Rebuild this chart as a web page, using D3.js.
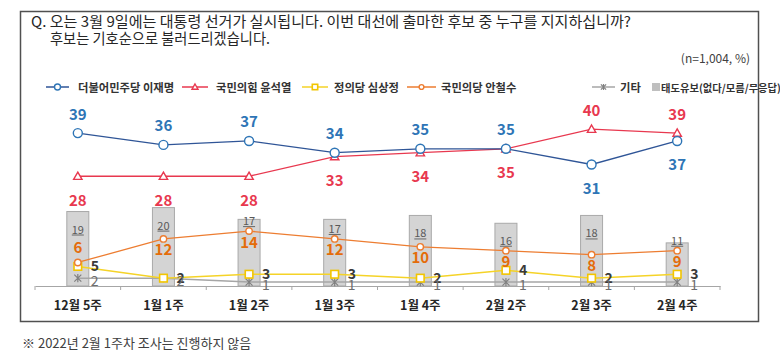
<!DOCTYPE html>
<html><head><meta charset="utf-8">
<script src="https://cdn.jsdelivr.net/npm/d3@7"></script>
<style>
html,body{margin:0;padding:0;background:#fff;}
svg{display:block;}
text{font-family:"Noto Sans CJK KR","Noto Sans",sans-serif;}
</style></head>
<body>
<svg id="chart" width="780" height="355"></svg>
<script>
const categories = ["12월 5주","1월 1주","1월 2주","1월 3주","1월 4주","2월 2주","2월 3주","2월 4주"];
const leeJaemyung = [39,36,37,34,35,35,31,37];
const yoonSukyeol = [28,28,28,33,34,35,40,39];
const simSangjung = [5,2,3,3,2,4,2,3];
const ahnCheolsoo = [6,12,14,12,10,9,8,9];
const others = [2,2,1,1,1,1,1,1];
const undecided = [19,20,17,17,18,16,18,11];
const seriesNames = ["더불어민주당 이재명","국민의힘 윤석열","정의당 심상정","국민의당 안철수","기타","태도유보(없다/모름/무응답)"];
const titleLines = ["Q. 오는 3월 9일에는 대통령 선거가 실시됩니다. 이번 대선에 출마한 후보 중 누구를 지지하십니까?","후보는 기호순으로 불러드리겠습니다."];
const sampleNote = "(n=1,004,  %)";
const footnote = "※ 2022년 2월 1주차 조사는 진행하지 않음";

const C = {
  blueLine:"#2f5597", blue:"#2e75b6",
  red:"#e8384f",
  yellowLine:"#f5d327", yellow:"#f2c500",
  orangeLine:"#ed7d31", orange:"#e46c0a",
  grayLine:"#a6a6a6", gray:"#808080",
  bar:"#d4d4d4", barStroke:"#a9a9a9"
};

const svg = d3.select("#chart");

// frame
svg.append("rect").attr("x",20.5).attr("y",11.5).attr("width",738).attr("height",310)
  .attr("fill","none").attr("stroke","#505050").attr("stroke-width",1.5);

// title
svg.append("text").attr("x",31).attr("y",20).attr("dominant-baseline","central")
  .attr("font-size",14.5).attr("fill","#262626").attr("textLength",600).attr("lengthAdjust","spacingAndGlyphs")
  .text(titleLines[0]);
svg.append("text").attr("x",50).attr("y",37).attr("dominant-baseline","central")
  .attr("font-size",14.5).attr("fill","#262626").attr("textLength",220).attr("lengthAdjust","spacingAndGlyphs")
  .text(titleLines[1]);
svg.append("text").attr("x",750).attr("y",57).attr("dominant-baseline","central")
  .attr("text-anchor","end").attr("font-size",12).attr("fill","#404040").text(sampleNote);

// scales
const x = d3.scaleBand().domain(categories).range([35,720]).paddingInner(0).paddingOuter(0);
const y = d3.scaleLinear().domain([0,50]).range([286,90]);
const cx = d => x(d) + x.bandwidth()/2;

// bars
const barW = 22;
const gBars = svg.append("g");
gBars.selectAll("rect").data(categories).join("rect")
  .attr("x",(d)=>cx(d)-barW/2).attr("y",(d,i)=>y(undecided[i]))
  .attr("width",barW).attr("height",(d,i)=>y(0)-y(undecided[i]))
  .attr("fill",C.bar).attr("stroke",C.barStroke).attr("stroke-width",1);

// axis
const gAxis = svg.append("g").attr("transform",`translate(0,${y(0)})`)
  .call(d3.axisBottom(x).tickSize(0).tickPadding(15));
gAxis.select(".domain").attr("stroke","#a6a6a6").attr("stroke-width",1.2);
gAxis.selectAll(".tick text").attr("font-size",12.5).attr("font-weight","bold").attr("fill","#262626")
  .attr("font-family",'"Noto Sans CJK KR",sans-serif');
const bounds = categories.map(d=>x(d)).concat([x.range()[1]]);
gAxis.selectAll(".bt").data(bounds).join("line").attr("class","bt")
  .attr("x1",d=>d).attr("x2",d=>d).attr("y1",0).attr("y2",4)
  .attr("stroke","#a6a6a6").attr("stroke-width",1);

// lines
function drawLine(vals, color, width){
  const line = d3.line().x((d,i)=>cx(categories[i])).y(d=>y(d));
  svg.append("path").datum(vals).attr("d",line).attr("fill","none")
    .attr("stroke",color).attr("stroke-width",width);
}
function marker(g, type, px, py, color, s){
  if(type==="circle"){
    g.append("circle").attr("cx",px).attr("cy",py).attr("r",s).attr("fill","#fff")
      .attr("stroke",color).attr("stroke-width",1.4);
  } else if(type==="triangle"){
    g.append("path").attr("d",`M${px},${py-s}L${px+s},${py+s*0.75}L${px-s},${py+s*0.75}Z`)
      .attr("fill","#fff").attr("stroke",color).attr("stroke-width",1.4);
  } else if(type==="square"){
    g.append("rect").attr("x",px-s).attr("y",py-s).attr("width",2*s).attr("height",2*s)
      .attr("fill","#fff").attr("stroke",color).attr("stroke-width",1.6);
  } else if(type==="star"){
    g.append("path").attr("d",`M${px-s},${py-s}L${px+s},${py+s}M${px-s},${py+s}L${px+s},${py-s}M${px},${py-s*1.2}L${px},${py+s*1.2}`)
      .attr("stroke",color).attr("stroke-width",1.2).attr("fill","none");
  }
}
function drawMarkers(vals, type, color, s){
  const g = svg.append("g");
  vals.forEach((v,i)=>marker(g,type,cx(categories[i]),y(v),color,s));
}

drawLine(others, C.grayLine, 1.5);
drawLine(simSangjung, C.yellowLine, 1.5);
drawLine(ahnCheolsoo, C.orangeLine, 1.3);
drawLine(yoonSukyeol, C.red, 1.3);
drawLine(leeJaemyung, C.blueLine, 1.3);
drawMarkers(others,"star",C.gray,3.5);
drawMarkers(simSangjung,"square",C.yellow,3.8);
drawMarkers(ahnCheolsoo,"circle",C.orangeLine,3.2);
drawMarkers(yoonSukyeol,"triangle",C.red,4.2);
drawMarkers(leeJaemyung,"circle",C.blue,4.5);

// labels
const lab = svg.append("g");
function label(px,py,txt,color,size,weight,anchor){
  return lab.append("text").attr("x",px).attr("y",py).attr("text-anchor",anchor||"middle")
    .attr("dominant-baseline","central").attr("font-size",size).attr("font-weight",weight)
    .attr("fill",color).text(txt);
}
categories.forEach((c,i)=>{
  const px = cx(c);
  const b = leeJaemyung[i], r = yoonSukyeol[i];
  label(px, y(b) + (b>=r ? -20 : 23), b, C.blue, 15, "bold");
  label(px, y(r) + (r>b ? -20 : 23), r, C.red, 15, "bold");
  const o = ahnCheolsoo[i];
  label(px, y(o) + (o - simSangjung[i] < 3 ? -16 : 10), o, C.orange, 15, "bold");
  label(px+13, y(simSangjung[i]) - 1, simSangjung[i], "#3a3a3a", 14, "bold", "start");
  label(px+13, y(others[i]) + 2, others[i], "#6e6e6e", 14, "normal", "start");
  const u = undecided[i];
  const ly = Math.min(y(u)+17, y(o)-11);
  label(px, ly, u, "#595959", 11, "normal");
  lab.append("line").attr("x1",px-6).attr("x2",px+6).attr("y1",ly+6.5).attr("y2",ly+6.5)
    .attr("stroke","#595959").attr("stroke-width",0.9);
});

// legend
const lg = svg.append("g");
const ly0 = 87;
const legendItems = [
  {x1:46,x2:69,tx:78,type:"circle",line:C.blueLine,mk:C.blue,s:3},
  {x1:182,x2:208,tx:216,type:"triangle",line:C.red,mk:C.red,s:3},
  {x1:302,x2:328,tx:334,type:"square",line:C.yellowLine,mk:C.yellow,s:2.7},
  {x1:407,x2:436,tx:441,type:"circle",line:C.orangeLine,mk:C.orangeLine,s:2.4},
  {x1:592,x2:615,tx:620,type:"star",line:C.grayLine,mk:C.gray,s:2.6}
];
legendItems.forEach((it,k)=>{
  lg.append("line").attr("x1",it.x1).attr("x2",it.x2).attr("y1",ly0).attr("y2",ly0)
    .attr("stroke",it.line).attr("stroke-width",1.5);
  marker(lg,it.type,(it.x1+it.x2)/2,ly0,it.mk,it.s);
  lg.append("text").attr("x",it.tx).attr("y",ly0).attr("dominant-baseline","central")
    .attr("font-size",11.3).attr("font-weight","bold").attr("fill","#333").text(seriesNames[k]);
});
lg.append("rect").attr("x",652).attr("y",ly0-4).attr("width",8).attr("height",8).attr("fill","#bfbfbf");
lg.append("text").attr("x",661).attr("y",ly0).attr("dominant-baseline","central")
  .attr("font-size",10.3).attr("font-weight","bold").attr("fill","#333").text(seriesNames[5]);

// footnote
svg.append("text").attr("x",22).attr("y",342).attr("dominant-baseline","central")
  .attr("font-size",13).attr("fill","#404040").text(footnote);
</script>
</body></html>
